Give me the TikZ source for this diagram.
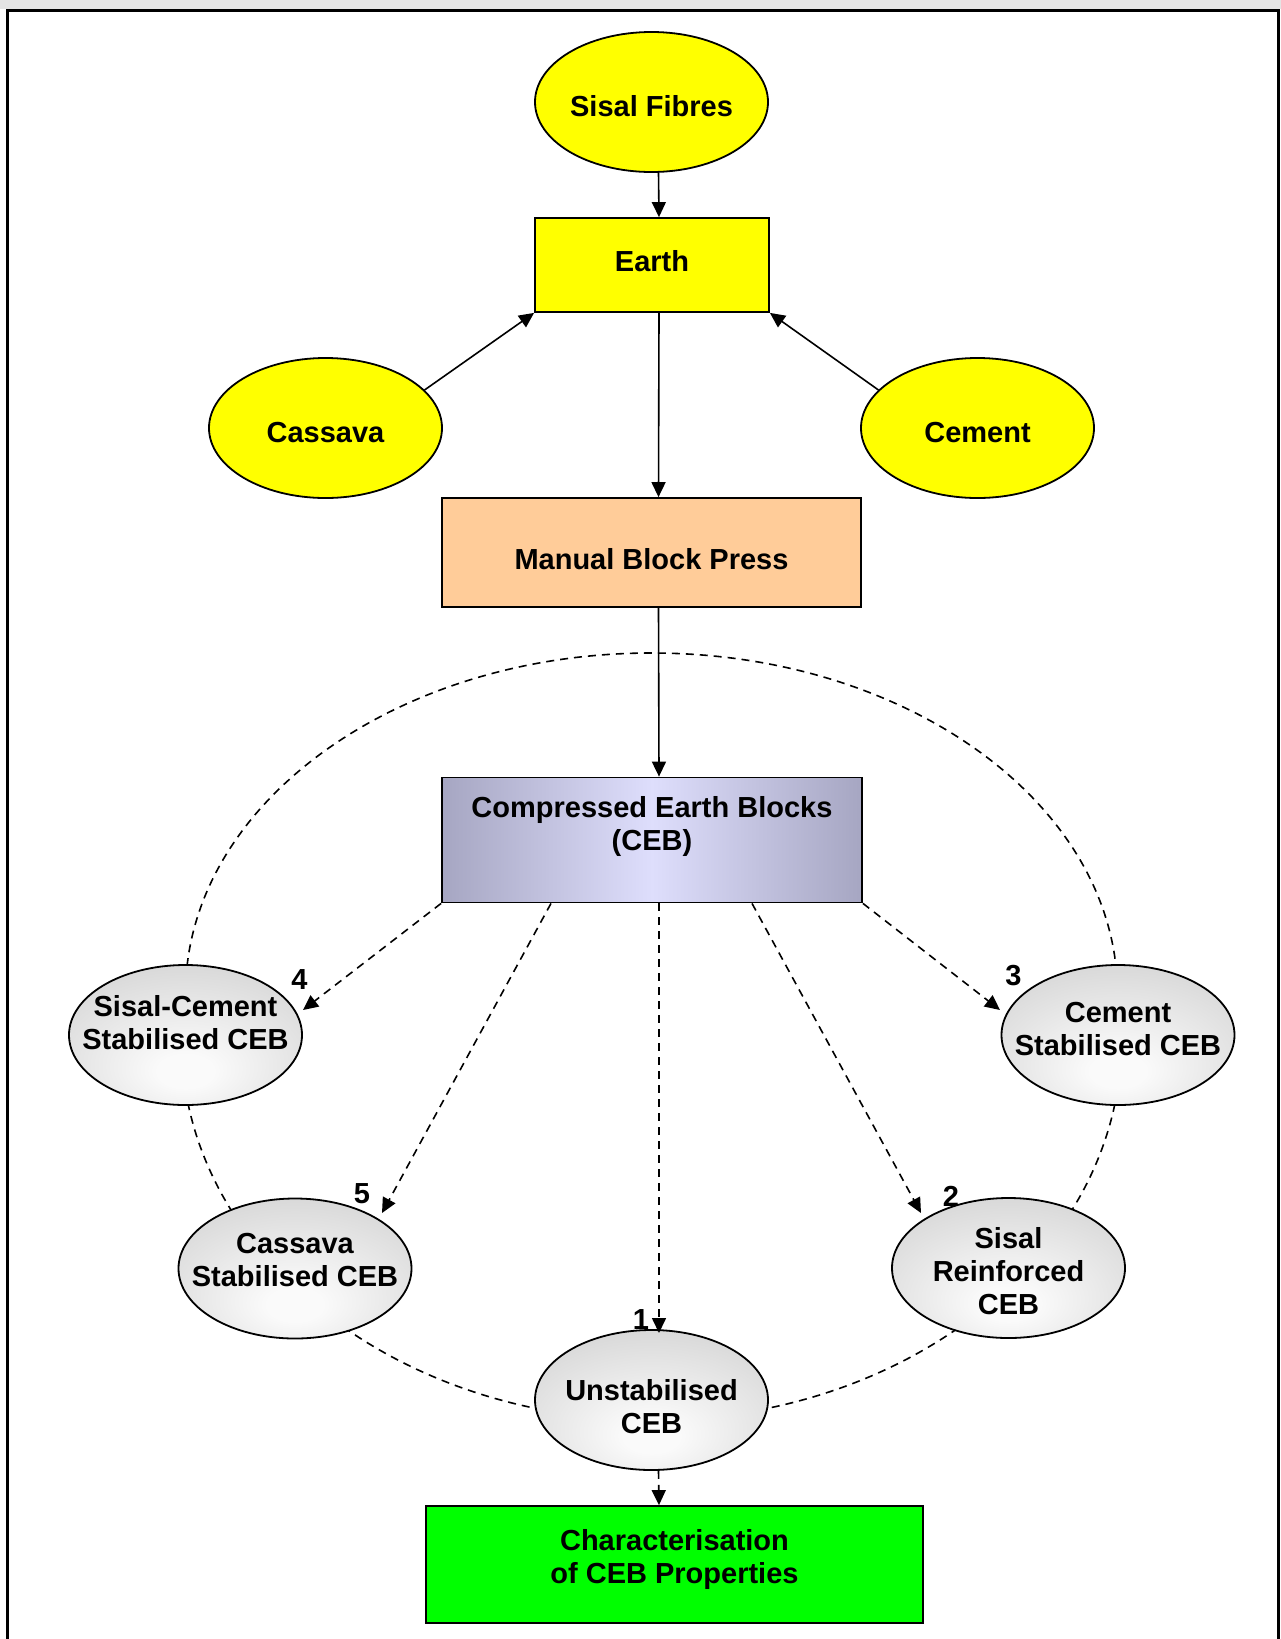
\documentclass[tikz,border=0pt]{standalone}
\usepackage{fontspec}
\setmainfont{Liberation Sans}
\usetikzlibrary{arrows.meta,shapes.geometric}

\definecolor{sunyellow}{RGB}{255,255,0}
\definecolor{peach}{RGB}{255,204,153}
\definecolor{brightgreen}{RGB}{0,255,0}
\definecolor{cebedge}{RGB}{166,166,194}
\definecolor{cebmid}{RGB}{222,222,252}
\definecolor{ovaledge}{RGB}{194,194,194}
\definecolor{ovalcentre}{RGB}{250,250,250}
\definecolor{topband}{RGB}{228,228,228}

% soft grey glow for the product ovals, brightest a little below the centre
\pgfdeclareradialshading{ovalglow}{\pgfpoint{0bp}{-14bp}}{%
  color(0bp)=(ovalcentre); color(6bp)=(ovalcentre);
  color(52bp)=(ovaledge); color(80bp)=(ovaledge)}

\tikzset{
  txt/.style={font=\fontsize{29}{33}\selectfont\bfseries, align=center, inner sep=0pt},
  ink/.style={draw=black, line width=1.8pt},
  oval/.style={ellipse, ink, minimum width=233pt, minimum height=140pt, inner sep=0pt},
  yellowoval/.style={oval, fill=sunyellow},
  greyoval/.style={oval, shade, shading=ovalglow},
  box/.style={rectangle, ink, inner sep=0pt},
  solidarrow/.style={line width=1.6pt, -{Triangle[length=15pt,width=14pt]}},
  dasharrow/.style={solidarrow, dash pattern=on 8pt off 6pt},
  ring/.style={line width=1.6pt, dash pattern=on 8pt off 6pt}
}

\begin{document}
\begin{tikzpicture}[x=1pt, y=-1pt]
\useasboundingbox (0,0) rectangle (1281,1639);
\fill[topband] (0,0) rectangle (1281,9);

% dashed ring linking the five block types
\draw[ring] (185.5,994) .. controls (185.5,805.7) and (394.1,653) .. (651.5,653)
  .. controls (908.9,653) and (1117.5,805.7) .. (1117.5,994)
  -- (1121.5,1040)
  .. controls (1121.5,1249.9) and (911.1,1420) .. (651.5,1420)
  .. controls (391.9,1420) and (181.5,1249.9) .. (181.5,1040)
  -- cycle;

% raw materials and processing
\node[yellowoval] (sf) at (651.5,102) {};
\node[box, fill=sunyellow, minimum width=234pt, minimum height=94pt] (earth) at (652,265) {};
\node[yellowoval] (cas) at (325.5,428) {};
\node[yellowoval] (cem) at (977.5,428) {};
\node[box, fill=peach, minimum width=419pt, minimum height=109pt] (mbp) at (651.5,552.5) {};
\node[box, minimum width=420pt, minimum height=125pt,
      left color=cebedge, right color=cebedge, middle color=cebmid] (ceb) at (652,840) {};

% block types
\node[greyoval] (sc) at (185.5,1035) {};
\node[greyoval] (cs) at (1118,1035) {};
\node[greyoval] (cst) at (295,1268.5) {};
\node[greyoval] (sr) at (1008.5,1268) {};
\node[greyoval] (un) at (651.5,1400) {};
\node[box, fill=brightgreen, minimum width=497pt, minimum height=117pt] (chr) at (674.5,1564.5) {};

% labels inside the shapes
\node[txt] (sf-t) at (651.5,106.2) {Sisal Fibres};
\node[txt] (earth-t) at (652,260.8) {Earth};
\node[txt] (cas-t) at (325.5,432.2) {Cassava};
\node[txt] (cem-t) at (977.5,432.2) {Cement};
\node[txt] (mbp-t) at (651.5,558.8) {Manual Block Press};
\node[txt] (ceb-t) at (652,826) {Compressed Earth Blocks\\(CEB)};
\node[txt] (sc-t) at (185.5,1023) {Sisal-Cement\\Stabilised CEB};
\node[txt] (cs-t) at (1118,1029.3) {Cement\\Stabilised CEB};
\node[txt] (cst-t) at (295,1260) {Cassava\\Stabilised CEB};
\node[txt] (sr-t) at (1008.5,1271) {Sisal\\Reinforced\\CEB};
\node[txt] (un-t) at (651.5,1406.3) {Unstabilised\\CEB};
\node[txt] (chr-t) at (674.5,1559.3) {Characterisation\\of CEB Properties};

% arrow ends near the block-type ovals
\coordinate (tip4) at (303,1010);
\coordinate (tip5) at (382,1213);
\coordinate (tip1) at (659,1333);
\coordinate (tip2) at (921,1213);
\coordinate (tip3) at (1000,1010);

% solid flow
\draw[solidarrow] ([xshift=7pt]sf.south) -- ([xshift=7pt]earth.north);
\draw[solidarrow] (cas.21) -- (earth.south west);
\draw[solidarrow] (cem.159) -- (earth.south east);
\draw[solidarrow] ([xshift=7pt]earth.south) -- ([xshift=7pt]mbp.north);
\draw[solidarrow] ([xshift=7pt]mbp.south) -- ([xshift=7pt]ceb.north);

% dashed flow to the block types
\draw[dasharrow] (ceb.south west) -- (tip4);
\draw[dasharrow] ([xshift=-101pt]ceb.south) -- (tip5);
\draw[dasharrow] ([xshift=7pt]ceb.south) -- (tip1);
\draw[dasharrow] ([xshift=100pt]ceb.south) -- (tip2);
\draw[dasharrow] (ceb.south east) -- (tip3);
\draw[dasharrow] ([xshift=7pt]un.south) -- ([xshift=-15.5pt]chr.north);

% numbering
\node[txt] (n1) at (641,1320) {1};
\node[txt] (n2) at (951,1196) {2};
\node[txt] (n3) at (1013.5,976) {3};
\node[txt] (n4) at (299.5,980) {4};
\node[txt] (n5) at (362,1194) {5};

% frame
\draw[line width=3.2pt, line join=miter] (7.5,1660) -- (7.5,10.5) -- (1278.5,10.5) -- (1278.5,1660);
\end{tikzpicture}
\end{document}
